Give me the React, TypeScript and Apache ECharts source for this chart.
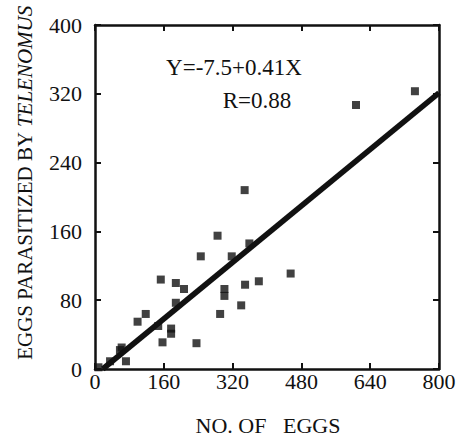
import React, { useEffect, useRef } from "react";
import * as echarts from "echarts";

const xTicks = [0, 160, 320, 480, 640, 800];
const yTicks = [0, 80, 160, 240, 320, 400];

const eggs = [744, 607, 348, 285, 359, 246, 318, 455, 153, 188, 207, 381, 349, 301, 301, 340, 188, 291, 118, 99, 147, 177, 177, 157, 236, 58, 62, 72, 35, 8];
const parasitized = [323, 307, 208, 155, 146, 131, 131, 111, 104, 100, 93, 102, 98, 93, 85, 74, 77, 64, 64, 55, 50, 47, 41, 31, 30, 22, 25, 9, 9, 2];

const fitLine = [
  [18, 0],
  [800, 321],
];

const equationText = "Y=-7.5+0.41X";
const rText = "R=0.88";
const xTitle = "NO. OF   EGGS";
const yTitlePlain = "EGGS PARASITIZED BY ";
const yTitleItalic = "TELENOMUS";

const FONT = "Liberation Serif";

export default function App() {
  const ref = useRef<HTMLDivElement>(null);
  useEffect(() => {
    if (!ref.current) return;
    const chart = echarts.init(ref.current, undefined, { renderer: "svg" });
    const points = eggs.map((x, i) => [x, parasitized[i]]);
    const axisCommon = {
      type: "value" as const,
      splitLine: { show: false },
      axisLine: { show: true, onZero: false, lineStyle: { color: "#111", width: 2.5 } },
      axisTick: { show: true, inside: true, length: 6, lineStyle: { color: "#111", width: 2 } },
    };
    chart.setOption({
      animation: false,
      backgroundColor: "#fff",
      grid: { left: 95, right: 21, top: 25, bottom: 67, containLabel: false },
      xAxis: [
        {
          ...axisCommon,
          min: 0,
          max: 800,
          interval: 160,
          position: "bottom",
          axisLabel: { color: "#111", fontFamily: FONT, fontSize: 22, margin: 1 },
        },
        {
          ...axisCommon,
          min: 0,
          max: 800,
          interval: 160,
          position: "top",
          axisLabel: { show: false },
        },
      ],
      yAxis: [
        {
          ...axisCommon,
          min: 0,
          max: 400,
          interval: 80,
          position: "left",
          axisLabel: { color: "#111", fontFamily: FONT, fontSize: 22, margin: 13 },
        },
        {
          ...axisCommon,
          min: 0,
          max: 400,
          interval: 80,
          position: "right",
          axisLabel: { show: false },
        },
      ],
      graphic: [
        {
          type: "text",
          x: 234,
          y: 67,
          style: {
            text: equationText,
            font: `23px "${FONT}"`,
            fill: "#111",
            align: "center",
            verticalAlign: "middle",
          },
        },
        {
          type: "text",
          x: 257,
          y: 100,
          style: {
            text: rText,
            font: `23px "${FONT}"`,
            fill: "#111",
            align: "center",
            verticalAlign: "middle",
          },
        },
        {
          type: "text",
          x: 268,
          y: 425,
          style: {
            text: xTitle,
            font: `22px "${FONT}"`,
            fill: "#111",
            align: "center",
            verticalAlign: "middle",
          },
        },
        {
          type: "text",
          x: 25,
          y: 183,
          rotation: Math.PI / 2,
          style: {
            text: `{a|${yTitlePlain}}{b|${yTitleItalic}}`,
            fill: "#111",
            align: "center",
            verticalAlign: "middle",
            rich: {
              a: { fontFamily: FONT, fontSize: 21, fill: "#111" },
              b: { fontFamily: FONT, fontSize: 21, fontStyle: "italic", fill: "#111" },
            },
          },
        },
      ],
      series: [
        {
          type: "line",
          data: fitLine,
          symbol: "none",
          lineStyle: { color: "#111", width: 5.5 },
          z: 2,
        },
        {
          type: "scatter",
          data: points,
          symbol: "rect",
          symbolSize: 8,
          itemStyle: { color: "#111" },
          z: 3,
        },
      ],
    });
    return () => chart.dispose();
  }, []);
  return (
    <div
      ref={ref}
      style={{ position: "fixed", left: 0, top: 0, width: 460, height: 436, background: "#fff" }}
    />
  );
}
